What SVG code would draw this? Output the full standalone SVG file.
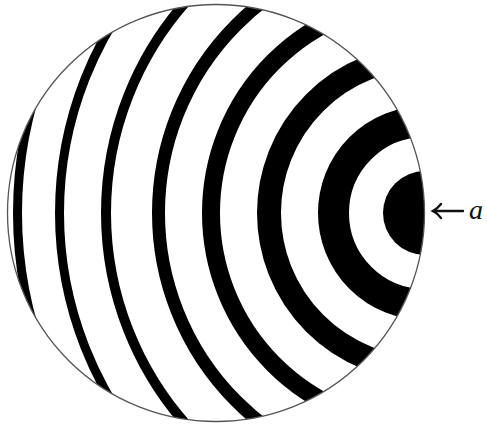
<svg xmlns="http://www.w3.org/2000/svg" width="487" height="424" viewBox="0 0 487 424">
  <style>
    .ring { fill: none; stroke: #000; }
    .outline { fill: none; stroke: #555; stroke-width: 1.3; }
    .lbl { font-family: "Liberation Serif", "DejaVu Serif", serif; font-style: italic; font-size: 28px; fill: #111; }
    .arr { fill: none; stroke: #111; stroke-width: 2.4; stroke-linecap: round; }
  </style>
  <defs>
    <clipPath id="disc">
      <circle cx="216" cy="213" r="208.5"/>
    </clipPath>
  </defs>
  <rect width="487" height="424" fill="#fff"/>
  <g id="zones" clip-path="url(#disc)">
    <circle cx="425" cy="213" r="42" fill="#000"/>
    <circle class="ring" cx="425" cy="213" r="91.5" stroke-width="31"/>
    <circle class="ring" cx="425" cy="213" r="156" stroke-width="24"/>
    <circle class="ring" cx="425" cy="213" r="214" stroke-width="18"/>
    <circle class="ring" cx="425" cy="213" r="266.5" stroke-width="13"/>
    <circle class="ring" cx="425" cy="213" r="319" stroke-width="10"/>
    <circle class="ring" cx="425" cy="213" r="365.5" stroke-width="9"/>
    <circle class="ring" cx="425" cy="213" r="407.5" stroke-width="9"/>
  </g>
  <circle id="outline" class="outline" cx="216" cy="213" r="208.5"/>
  <g id="label-a">
    <path class="arr" d="M433 211 H463"/>
    <path class="arr" d="M441 204 Q437 209 433 211 Q437 213 441 218"/>
    <text class="lbl" x="469" y="219">a</text>
  </g>
</svg>
